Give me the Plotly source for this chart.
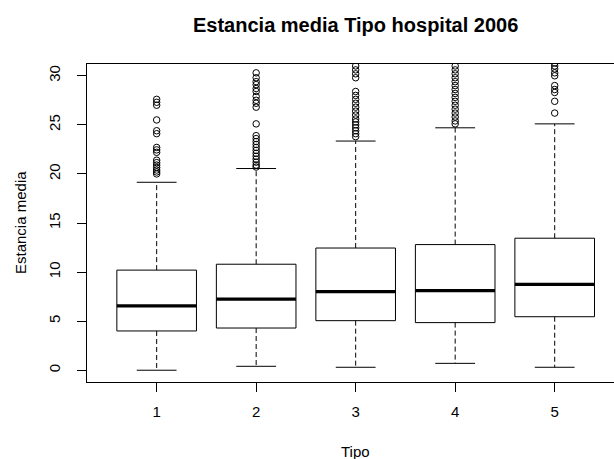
import plotly.graph_objects as go

# ---- data ----
categories = [1, 2, 3, 4, 5]
q1 = [4.0, 4.3, 5.05, 4.85, 5.45]
median = [6.55, 7.25, 8.0, 8.1, 8.75]
q3 = [10.2, 10.8, 12.45, 12.8, 13.45]
lower_whisker = [0.0, 0.4, 0.3, 0.7, 0.3]
upper_whisker = [19.15, 20.55, 23.35, 24.7, 25.1]

outliers_1 = [27.6, 27.3, 27.0, 25.5, 24.4, 24.1, 22.7, 22.45, 22.2, 21.4, 21.15,
              20.9, 20.65, 20.4, 20.2, 20.0]
outliers_2 = [30.3, 29.8, 29.4, 29.1, 28.7, 28.4, 27.9, 27.5, 27.2, 26.8, 25.1,
              23.9, 23.6, 23.3, 23.0, 22.7, 22.4, 22.1, 21.8, 21.5, 21.2, 20.9, 20.7]
outliers_3 = [31.0, 30.6, 30.2, 29.8, 28.4, 28.0, 27.6, 27.2, 26.8, 26.4, 26.0,
              25.6, 25.3, 25.0, 24.7, 24.4, 24.1, 23.8]
outliers_4 = [31.0, 30.6, 30.2, 29.8, 29.4, 29.0, 28.6, 28.2, 27.8, 27.4, 27.0,
              26.6, 26.2, 25.8, 25.4, 25.1]
outliers_5 = [31.3, 31.0, 30.7, 30.3, 30.0, 29.0, 28.6, 28.3, 27.4, 26.2]
outliers = [outliers_1, outliers_2, outliers_3, outliers_4, outliers_5]

y_ticks = [0, 5, 10, 15, 20, 25, 30]
title_text = "Estancia media Tipo hospital 2006"
x_title = "Tipo"
y_title = "Estancia media"

# ---- styling ----
FONT = "Liberation Sans, Arial, sans-serif"
BOX_HALF = 0.4
STAPLE_HALF = 0.2

box_x, box_y = [], []
med_x, med_y = [], []
wh_x, wh_y = [], []
st_x, st_y = [], []
out_x, out_y = [], []
for i, c in enumerate(categories):
    box_x += [c - BOX_HALF, c + BOX_HALF, c + BOX_HALF, c - BOX_HALF, c - BOX_HALF, None]
    box_y += [q1[i], q1[i], q3[i], q3[i], q1[i], None]
    med_x += [c - BOX_HALF, c + BOX_HALF, None]
    med_y += [median[i], median[i], None]
    wh_x += [c, c, None, c, c, None]
    wh_y += [q3[i], upper_whisker[i], None, q1[i], lower_whisker[i], None]
    st_x += [c - STAPLE_HALF, c + STAPLE_HALF, None, c - STAPLE_HALF, c + STAPLE_HALF, None]
    st_y += [upper_whisker[i], upper_whisker[i], None, lower_whisker[i], lower_whisker[i], None]
    out_x += [c] * len(outliers[i])
    out_y += outliers[i]

fig = go.Figure()
fig.add_trace(go.Scatter(x=wh_x, y=wh_y, mode="lines",
                         line=dict(color="black", width=1, dash="5px,3px"), hoverinfo="skip"))
fig.add_trace(go.Scatter(x=st_x, y=st_y, mode="lines",
                         line=dict(color="black", width=1), hoverinfo="skip"))
fig.add_trace(go.Scatter(x=box_x, y=box_y, mode="lines",
                         line=dict(color="black", width=1), hoverinfo="skip"))
fig.add_trace(go.Scatter(x=med_x, y=med_y, mode="lines",
                         line=dict(color="black", width=3.2), hoverinfo="skip"))
fig.add_trace(go.Scatter(x=out_x, y=out_y, mode="markers",
                         marker=dict(symbol="circle-open", size=6.5, color="black",
                                     line=dict(width=1, color="black"))))

fig.update_layout(
    width=614, height=459,
    margin=dict(l=87, r=0, t=64, b=77),
    paper_bgcolor="white", plot_bgcolor="white",
    showlegend=False,
    font=dict(family=FONT, size=15, color="black"),
    xaxis=dict(range=[0.3, 5.596], tickvals=categories, ticktext=[str(c) for c in categories],
               ticks="outside", ticklen=9, tickcolor="black", tickwidth=1,
               showline=True, linecolor="black", linewidth=1, mirror=True,
               showgrid=False, zeroline=False, ticklabelstandoff=7,
               tickfont=dict(size=15, family=FONT, color="black")),
    yaxis=dict(range=[-1.2, 31.2], tickvals=y_ticks, ticktext=[str(v) for v in y_ticks],
               ticks="outside", ticklen=9, tickcolor="black", tickwidth=1,
               showline=True, linecolor="black", linewidth=1, mirror=False,
               showgrid=False, zeroline=False, tickangle=-90, ticklabelstandoff=11,
               tickfont=dict(size=15, family=FONT, color="black")),
    annotations=[
        dict(text="<b>" + title_text + "</b>", xref="x", x=3, yref="paper", y=1,
             yshift=39, showarrow=False, xanchor="center", yanchor="middle",
             font=dict(size=20, family=FONT, color="black")),
        dict(text=x_title, xref="x", x=3, yref="paper", y=0, yshift=-69,
             showarrow=False, xanchor="center", yanchor="middle",
             font=dict(size=15, family=FONT, color="black")),
        dict(text=y_title, xref="paper", x=0, xshift=-67, yref="paper", y=0.5,
             textangle=-90, showarrow=False, xanchor="center", yanchor="middle",
             font=dict(size=15, family=FONT, color="black")),
    ],
)

fig.write_html("out.html")
